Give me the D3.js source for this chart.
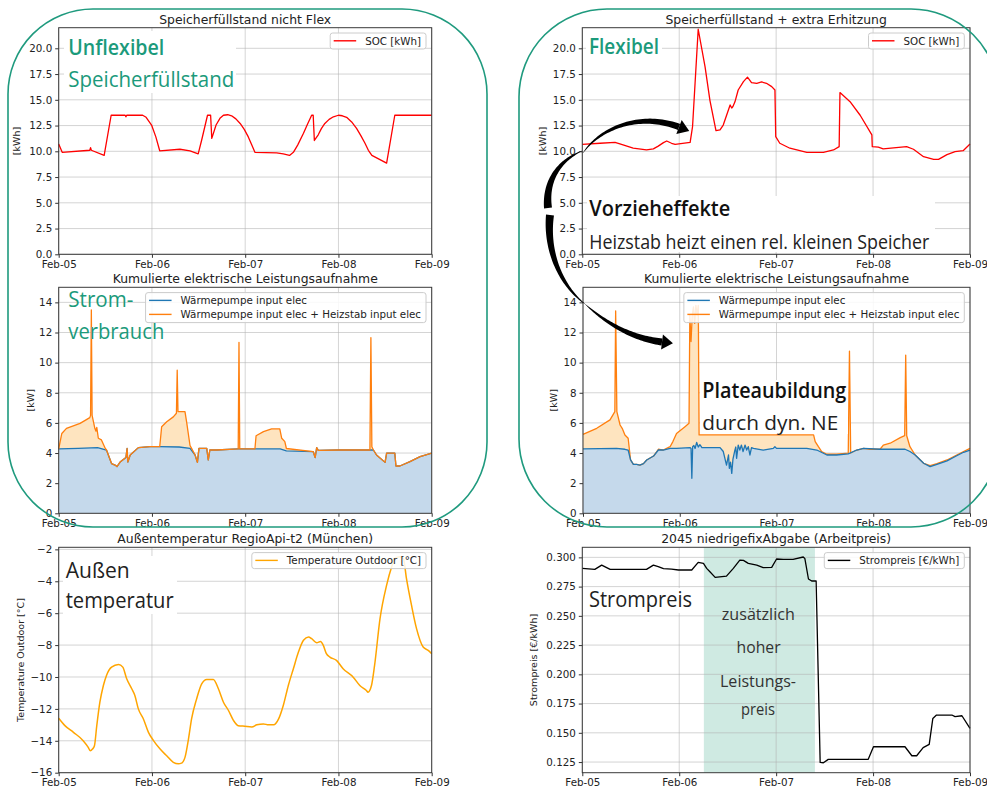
<!DOCTYPE html>
<html><head><meta charset="utf-8">
<script src="https://cdn.jsdelivr.net/npm/d3@7"></script>
<style>body{margin:0;background:#fff}svg{display:block}</style>
</head><body>
<svg id="c" width="987" height="789"></svg>
<script>
// ---------------- DATA (hours since Feb-05 00:00, value) ----------------
const dayLabels = ["Feb-05","Feb-06","Feb-07","Feb-08","Feb-09"];

const socNonFlex = [[0,10.7],[0.9,9.9],[8,10.1],[8.2,10.35],[8.4,10.1],[11.7,9.6],[13.5,13.5],[17.1,13.5],[17.3,13.35],[17.5,13.5],[21.6,13.5],[22.5,13.3],[23.9,12.55],[25,11.4],[26,10.05],[31.2,10.2],[33.8,10.05],[35.9,9.75],[36.8,11.1],[38.3,13.5],[39.1,13.5],[39.4,11.25],[40.5,12.55],[41.5,13.2],[42.4,13.5],[43.5,13.55],[44.5,13.45],[45.6,13.15],[46.7,12.7],[47.8,12.1],[48.8,11.4],[49.7,10.6],[50.5,9.9],[56.1,9.85],[57.8,9.75],[59.4,9.6],[60.4,9.9],[61.5,10.6],[63,11.75],[64,12.6],[65.1,13.5],[65.5,13.5],[65.8,11.05],[66.8,11.6],[67.6,12.2],[68.5,12.7],[69.6,13.1],[70.7,13.35],[72,13.5],[73,13.45],[74.1,13.3],[75.4,12.85],[76.7,12.2],[77.8,11.5],[78.8,10.8],[79.7,10.1],[80.6,9.6],[84.4,8.85],[86.5,13.5],[96,13.5]];

const socFlex = [[0,10.68],[4.4,10.78],[8.1,10.87],[9.7,10.68],[12.6,10.3],[15.9,10.13],[17.6,10.23],[18.8,10.5],[20.1,10.84],[20.9,11.0],[22.1,10.78],[23,10.68],[26.7,10.87],[27.3,12.4],[28.7,21.85],[30.4,18.2],[31.6,14.95],[33.1,12.0],[34.1,12.07],[34.9,12.55],[35.9,13.7],[36.6,14.5],[37,14.2],[37.3,14.35],[37.8,14.8],[38.6,15.95],[39.9,16.76],[40.9,17.2],[41.9,16.67],[43.2,16.6],[44.4,16.73],[45.6,16.6],[46.9,16.28],[47.7,15.95],[47.9,11.42],[48.9,10.78],[51.4,10.3],[55.6,9.9],[59.7,9.9],[62.2,10.13],[63.6,10.45],[63.8,15.7],[66.3,14.82],[68.8,13.5],[71.7,11.6],[71.8,10.45],[73.3,10.4],[74.5,10.23],[80.3,10.45],[82,10.2],[84.5,9.48],[87,9.22],[88.2,9.22],[90.3,9.68],[92.3,9.97],[94.3,10.06],[96,10.7]];

const wpNonFlex = [[0,4.27],[5,4.31],[10,4.36],[12.3,4.2],[13.6,3.3],[14.5,3.2],[15,3.1],[15.8,3.4],[17.3,3.7],[17.6,4.3],[17.8,3.4],[18.4,3.87],[20.5,4.36],[23.5,4.42],[26,4.42],[31,4.4],[33.8,4.31],[35.1,3.87],[35.7,3.38],[36.1,4.31],[38.1,4.31],[38.5,3.54],[38.9,4.2],[40.7,4.2],[46,4.27],[50,4.27],[57,4.27],[58.6,4.14],[65.5,4.1],[66,3.7],[66.4,4.36],[66.8,4.18],[72,4.2],[81,4.2],[81.8,3.87],[84,3.38],[84.4,4.0],[86.5,4.0],[86.8,3.14],[87.8,3.14],[90.4,3.43],[93,3.76],[96,4.0]];

const totalNonFlex = [[0,4.27],[0.8,5.3],[2,5.64],[5.5,5.97],[8,6.35],[8.2,6.5],[8.4,13.5],[8.6,6.5],[9.3,5.64],[9.6,5.45],[9.8,5.7],[10.2,4.98],[11,4.87],[12,4.3],[12.3,4.2],[13.6,3.3],[14.5,3.2],[15,3.1],[15.8,3.4],[17.3,3.7],[17.6,4.3],[17.8,3.4],[18.4,3.87],[20.5,4.36],[23.5,4.42],[26,4.42],[26.5,5.75],[27.8,6.08],[29.5,6.4],[30.3,6.64],[30.5,9.5],[30.7,6.75],[32.5,6.75],[32.9,6.1],[33.8,4.5],[34.2,4.31],[35.1,3.87],[35.7,3.38],[36.1,4.31],[38.1,4.31],[38.5,3.54],[38.9,4.2],[40.7,4.2],[46.2,4.27],[46.4,11.35],[46.6,4.27],[50.5,4.27],[50.8,5.15],[52.7,5.42],[54.8,5.6],[56.9,5.6],[57.4,4.98],[58.2,4.76],[58.6,4.3],[65.5,4.1],[66,3.7],[66.4,4.36],[66.8,4.18],[72,4.2],[80.1,4.2],[80.35,11.66],[80.6,4.42],[81,4.2],[81.8,3.87],[84,3.38],[84.4,4.0],[86.5,4.0],[86.8,3.14],[87.8,3.14],[90.4,3.43],[93,3.76],[96,4.0]];

const wpFlex = [[0,4.27],[8.3,4.31],[10.4,4.25],[11.2,4.2],[11.8,3.54],[12.5,3.25],[13.3,3.25],[14.1,3.2],[15,3.3],[15.8,3.54],[17.5,3.8],[18.7,4.2],[19.9,4.2],[21.6,4.31],[23.2,4.31],[26.6,4.36],[26.8,4.3],[27.0,2.32],[27.2,4.42],[27.5,4.5],[27.8,4.3],[28.2,4.7],[28.6,4.4],[29,4.55],[29.5,4.36],[30.7,4.36],[34,4.36],[34.8,4.1],[35.2,3.65],[35.6,3.2],[36.1,3.87],[36.3,2.99],[36.6,3.4],[36.9,2.65],[37.2,3.6],[37.6,4.1],[37.9,4.4],[38.1,3.65],[38.5,4.53],[38.9,4.2],[39.3,4.53],[39.7,4.1],[40.2,4.53],[40.6,4.2],[41,4.42],[41.4,3.87],[41.8,4.36],[42.3,4.31],[44.7,4.2],[47.2,4.31],[47.6,4.42],[48,4.31],[51.4,4.31],[55.5,4.31],[58,4.2],[60.5,3.87],[62.9,3.87],[65.8,3.94],[67.9,4.2],[69.6,4.31],[73.7,4.25],[79.9,4.25],[81.1,4.1],[82.4,3.87],[84.5,3.32],[86.1,3.1],[87.8,3.25],[90.3,3.48],[92.7,3.82],[94.4,4.05],[96,4.2]];

const totalFlex = [[0,5.24],[3.4,5.64],[6.7,6.2],[7.9,6.75],[8.1,13.43],[8.4,6.75],[9.2,5.86],[9.8,5.6],[10.4,5.2],[11.2,4.98],[11.8,3.54],[12.5,3.25],[13.3,3.25],[14.1,3.2],[15,3.3],[15.8,3.54],[17.5,3.8],[18.7,4.25],[19.9,4.2],[21.6,4.42],[22.3,4.76],[23.2,5.3],[25.3,5.75],[26.3,5.97],[26.5,13.16],[26.8,11.4],[27.1,13.16],[27.4,13.7],[27.7,12.6],[28,13.8],[28.3,13.16],[28.6,13.8],[28.8,5.2],[57.2,5.2],[57.6,4.76],[58.4,4.42],[59.2,4.1],[60.5,3.92],[62.9,3.92],[65.8,4.0],[66.1,10.77],[66.4,4.0],[67.9,4.2],[69.6,4.31],[71.2,4.25],[73.7,4.25],[74.5,4.53],[76.2,4.65],[78.7,5.02],[79.8,5.15],[80.05,10.5],[80.3,5.15],[81.1,4.42],[82.4,3.87],[84.5,3.32],[86.1,3.16],[87.8,3.3],[90.3,3.54],[92.7,3.87],[94.4,4.1],[96,4.31]];

const tempOutdoor = [[0,-12.59],[1.6,-13.05],[3.8,-13.47],[6.3,-13.99],[7.6,-14.41],[8.1,-14.62],[8.7,-14.52],[9.2,-14.31],[9.8,-13.05],[10.6,-11.58],[11.5,-10.53],[12.3,-9.9],[13.6,-9.38],[15.4,-9.21],[16.5,-9.38],[17.5,-10.11],[18.8,-10.74],[19.6,-11.16],[20.5,-12.0],[21.8,-12.63],[23.1,-13.47],[24.4,-13.99],[26.1,-14.52],[27.8,-14.94],[29.5,-15.35],[30.8,-15.44],[31.6,-15.4],[32.5,-15.04],[33.4,-13.89],[34.2,-12.63],[35.5,-11.37],[36.8,-10.43],[38.1,-10.15],[39.8,-10.15],[41.1,-10.74],[42.4,-11.58],[43.7,-12.1],[45,-12.73],[46.2,-13.05],[47.9,-13.09],[49.7,-13.13],[51,-13.0],[52.7,-12.94],[54,-13.0],[55.3,-13.0],[56.6,-12.63],[57.8,-11.79],[59.1,-10.53],[60.4,-9.48],[61.7,-8.44],[63,-7.7],[64.3,-7.49],[65.1,-7.6],[66.4,-7.85],[67.4,-7.77],[68.1,-8.02],[68.9,-8.54],[69.8,-8.75],[71.5,-8.96],[73.2,-9.48],[75.8,-10.01],[77.5,-10.53],[79.2,-10.85],[79.6,-10.95],[80.5,-10.53],[81.3,-9.27],[82.7,-6.34],[84.4,-4.24],[85.7,-3.09],[86.5,-2.57],[87.8,-2.46],[88.7,-2.57],[89.5,-3.82],[90.8,-5.5],[92.1,-6.97],[93.8,-8.12],[95.1,-8.33],[96,-8.54]];

const strompreis = [[0,0.2906],[3.1,0.2897],[4.8,0.2934],[6.9,0.2897],[15.9,0.2897],[17.6,0.2934],[18.8,0.292],[20.1,0.2903],[22.1,0.29],[23.8,0.2892],[27.1,0.2892],[28.7,0.2957],[30,0.2949],[30.8,0.2906],[31.6,0.2877],[32.9,0.2829],[35.7,0.284],[37.4,0.2906],[39,0.2977],[39.9,0.2974],[41.1,0.2949],[43.2,0.2934],[44.8,0.2912],[46.9,0.2914],[48.1,0.2986],[49.8,0.2983],[52.2,0.2983],[54.7,0.3003],[55.1,0.2991],[56,0.2815],[56.8,0.2798],[57.9,0.2798],[58.9,0.1247],[59.7,0.1244],[60.9,0.1273],[70.8,0.1273],[72.1,0.1381],[79.9,0.1381],[81.6,0.1304],[82.8,0.1304],[84.4,0.1373],[85.9,0.1401],[86.8,0.1623],[87.7,0.1652],[91.5,0.1652],[92.3,0.1638],[94,0.1646],[96,0.1538]];

const leistungspreisSpan = [30.1, 57.6];

// ---------------- SETUP ----------------
const svg = d3.select("#c");
const base = Date.UTC(2021,1,5);
const toDate = h => new Date(base + h*3600e3);
const xDomain = [toDate(0), toDate(96)];
const tickDates = d3.range(0,97,24).map(toDate);
const MPL = "DejaVu Sans";
const TEAL = "#1b9a7b";

function panel(c){
  const x = d3.scaleUtc().domain(xDomain).range([c.x0,c.x1]);
  const y = d3.scaleLinear().domain(c.yDomain).range([c.y1,c.y0]);
  const g = svg.append("g");
  if(c.span){
    g.append("rect").attr("x",x(toDate(c.span[0]))).attr("y",c.y0)
     .attr("width",x(toDate(c.span[1]))-x(toDate(c.span[0]))).attr("height",c.y1-c.y0)
     .attr("fill","#cfeae2");
  }
  // grid
  g.append("g").selectAll("line").data(tickDates).join("line")
    .attr("x1",d=>x(d)).attr("x2",d=>x(d)).attr("y1",c.y0).attr("y2",c.y1)
    .attr("stroke","#b0b0b0").attr("stroke-opacity",0.55).attr("stroke-width",1);
  g.append("g").selectAll("line").data(c.yTicks).join("line")
    .attr("x1",c.x0).attr("x2",c.x1).attr("y1",d=>y(d)).attr("y2",d=>y(d))
    .attr("stroke","#b0b0b0").attr("stroke-opacity",0.55).attr("stroke-width",1);
  // series
  (c.series||[]).forEach(s=>{
    const pts = s.data.map(d=>[x(toDate(d[0])), y(d[1])]);
    if(s.fill){
      const area = d3.area().x(d=>d[0]).y0(y(c.yDomain[0])).y1(d=>d[1]);
      g.append("path").attr("d",area(pts)).attr("fill",s.fill);
    }
  });
  (c.series||[]).forEach(s=>{
    const line = d3.line().curve(s.curve||d3.curveLinear);
    const pts = s.data.map(d=>[x(toDate(d[0])), y(d[1])]);
    if(!s.noLine) g.append("path").attr("d",line(pts)).attr("fill","none")
      .attr("stroke",s.color).attr("stroke-width",s.width||1.3).attr("stroke-linejoin","round");
  });
  (c.lineOrder||[]).forEach(s=>{
    const line = d3.line();
    const pts = s.data.map(d=>[x(toDate(d[0])), y(d[1])]);
    g.append("path").attr("d",line(pts)).attr("fill","none")
      .attr("stroke",s.color).attr("stroke-width",s.width||1.3).attr("stroke-linejoin","round");
  });
  // frame
  g.append("rect").attr("x",c.x0).attr("y",c.y0).attr("width",c.x1-c.x0).attr("height",c.y1-c.y0)
    .attr("fill","none").attr("stroke","#3a3a3a").attr("stroke-width",1);
  // axes
  const ax = d3.axisBottom(x).tickValues(tickDates).tickFormat((d,i)=>dayLabels[i]).tickSize(3.5).tickPadding(2.5);
  const gx = g.append("g").attr("transform",`translate(0,${c.y1})`).call(ax);
  gx.select(".domain").remove();
  gx.selectAll("line").attr("stroke","#333");
  gx.selectAll("text").attr("font-family",MPL).attr("font-size",10.3).attr("fill","#222");
  const ay = d3.axisLeft(y).tickValues(c.yTicks).tickFormat(c.yFmt).tickSize(3.5).tickPadding(3);
  const gy = g.append("g").attr("transform",`translate(${c.x0},0)`).call(ay);
  gy.select(".domain").remove();
  gy.selectAll("line").attr("stroke","#333");
  gy.selectAll("text").attr("font-family",MPL).attr("font-size",10.3).attr("fill","#222");
  // title
  g.append("text").attr("x",(c.x0+c.x1)/2).attr("y",c.y0-4.2).attr("text-anchor","middle")
    .attr("font-family",MPL).attr("font-size",12.4).attr("fill","#222").text(c.title);
  // ylabel
  g.append("text").attr("transform",`translate(${c.ylabelX},${(c.y0+c.y1)/2}) rotate(-90)`)
    .attr("text-anchor","middle").attr("dy","0.35em")
    .attr("font-family",MPL).attr("font-size",9.5).attr("fill","#222").text(c.ylabel);
  // legend
  const lg = g.append("g");
  const rows = c.legend;
  const tmp = rows.map(r=>{
    const t = lg.append("text").attr("font-family",MPL).attr("font-size",10.3).attr("fill","#222").text(r.label);
    return t;
  });
  const tw = d3.max(tmp, t=>t.node().getComputedTextLength());
  const bw = 35 + tw + 5, bh = rows.length===1 ? 16 : 30;
  const bx = c.x1 - 5.7 - bw, by = c.y0 + 5.3;
  lg.insert("rect","text").attr("x",bx).attr("y",by).attr("width",bw).attr("height",bh).attr("rx",2.5)
    .attr("fill","#fff").attr("fill-opacity",0.85).attr("stroke","#cccccc").attr("stroke-width",1);
  rows.forEach((r,i)=>{
    const cy = by + 7.8 + i*14;
    lg.append("line").attr("x1",bx+3.5).attr("x2",bx+26).attr("y1",cy).attr("y2",cy)
      .attr("stroke",r.color).attr("stroke-width",1.4);
    tmp[i].attr("x",bx+35).attr("y",cy).attr("dy","0.36em");
  });
  return {x,y,g};
}

const yA = d3.range(0,20.01,2.5);
const yP = d3.range(0,15,2);
const yT = d3.range(-16,-1.9,2);
const yS = d3.range(5,13).map(i=>i*0.025);

panel({x0:58.7,x1:431.7,y0:27.7,y1:254.3,yDomain:[0,22],yTicks:yA,yFmt:d3.format(".1f"),
  title:"Speicherfüllstand nicht Flex",ylabel:"[kWh]",ylabelX:16.7,
  series:[{data:socNonFlex,color:"#ff0000",width:1.3}],
  legend:[{label:"SOC [kWh]",color:"#ff0000"}]});
panel({x0:582.3,x1:970,y0:27.7,y1:254.3,yDomain:[0,22],yTicks:yA,yFmt:d3.format(".1f"),
  title:"Speicherfüllstand + extra Erhitzung",ylabel:"[kWh]",ylabelX:542.7,
  series:[{data:socFlex,color:"#ff0000",width:1.3}],
  legend:[{label:"SOC [kWh]",color:"#ff0000"}]});
panel({x0:58.7,x1:431.7,y0:287.3,y1:513.3,yDomain:[0,15],yTicks:yP,yFmt:d3.format("d"),
  title:"Kumulierte elektrische Leistungsaufnahme",ylabel:"[kW]",ylabelX:31,
  series:[{data:totalNonFlex,fill:"#fee4bf",noLine:true},{data:wpNonFlex,fill:"#c5d9eb",color:"#1f77b4"},{data:totalNonFlex,color:"#ff7f0e",noLine:false}],
  legend:[{label:"Wärmepumpe input elec",color:"#1f77b4"},{label:"Wärmepumpe input elec + Heizstab input elec",color:"#ff7f0e"}]});
panel({x0:583,x1:970,y0:287.3,y1:513.3,yDomain:[0,15],yTicks:yP,yFmt:d3.format("d"),
  title:"Kumulierte elektrische Leistungsaufnahme",ylabel:"[kW]",ylabelX:554,
  series:[{data:totalFlex,fill:"#fee4bf",noLine:true},{data:wpFlex,fill:"#c5d9eb",noLine:true}],
  lineOrder:[{data:totalFlex,color:"#ff7f0e"},{data:wpFlex,color:"#1f77b4"}],
  legend:[{label:"Wärmepumpe input elec",color:"#1f77b4"},{label:"Wärmepumpe input elec + Heizstab input elec",color:"#ff7f0e"}]});
panel({x0:58.7,x1:431.7,y0:547.3,y1:772.7,yDomain:[-16,-1.87],yTicks:yT,yFmt:d3.format("d"),
  title:"Außentemperatur RegioApi-t2 (München)",ylabel:"Temperature Outdoor [°C]",ylabelX:21,
  series:[{data:tempOutdoor,color:"#ffa500",width:1.5,curve:d3.curveMonotoneX}],
  legend:[{label:"Temperature Outdoor [°C]",color:"#ffa500"}]});
panel({x0:582.3,x1:970,y0:547.3,y1:772.7,yDomain:[0.1159,0.3086],yTicks:yS,yFmt:d3.format(".3f"),
  title:"2045 niedrigefixAbgabe (Arbeitpreis)",ylabel:"Strompreis [€/kWh]",ylabelX:534,span:leistungspreisSpan,
  series:[{data:strompreis,color:"#000",width:1.3}],
  legend:[{label:"Strompreis [€/kWh]",color:"#000"}]});

// ---------------- OVERLAY ANNOTATIONS ----------------
const OV = "'Open Sans','Noto Sans',sans-serif";
const boxes = [[64,31,172,62],[586,32,76,28],[587,196,348,56],[700,380,148,54],[63,556,114,58],[587,588,107,25]];
boxes.forEach(b=>svg.append("rect").attr("x",b[0]).attr("y",b[1]).attr("width",b[2]).attr("height",b[3]).attr("fill","#fff"));

const labels = [
  {t:"Unflexibel",x:68.3,y:55,s:22,w:600,c:TEAL,len:96},
  {t:"Speicherfüllstand",x:68.3,y:87,s:21,w:400,c:TEAL,len:166},
  {t:"Flexibel",x:589,y:54.3,s:22,w:600,c:TEAL,len:70},
  {t:"Vorzieheffekte",x:589.3,y:216,s:22,w:600,c:"#111",len:141},
  {t:"Heizstab heizt einen rel. kleinen Speicher",x:589.3,y:249.3,s:20,w:400,c:"#222",len:340},
  {t:"Strom-",x:68.3,y:307.3,s:22,w:400,c:TEAL,len:65},
  {t:"verbrauch",x:68.3,y:339,s:22,w:400,c:TEAL,len:96},
  {t:"Plateaubildung",x:702.3,y:398.3,s:22,w:600,c:"#111",len:144},
  {t:"durch dyn. NE",x:702.3,y:430,s:20,w:400,c:"#222",len:136},
  {t:"Außen",x:65.7,y:578.3,s:21,w:400,c:"#222",len:64},
  {t:"temperatur",x:65.7,y:608.3,s:21,w:400,c:"#222",len:108},
  {t:"Strompreis",x:589,y:606.7,s:21,w:400,c:"#222",len:103},
  {t:"zusätzlich",x:758.3,y:620,s:17,w:400,c:"#333",len:73,mid:true},
  {t:"hoher",x:758.6,y:653.3,s:17,w:400,c:"#333",len:44,mid:true},
  {t:"Leistungs-",x:758,y:686.7,s:17,w:400,c:"#333",len:76,mid:true},
  {t:"preis",x:758,y:715,s:17,w:400,c:"#333",len:34,mid:true}
];
labels.forEach(l=>{
  svg.append("text").attr("x",l.mid? l.x-l.len/2 : l.x).attr("y",l.y)
    .attr("font-family",OV).attr("font-size",l.s).attr("font-weight",l.w).attr("fill",l.c)
    .attr("textLength",l.len).attr("lengthAdjust","spacingAndGlyphs").text(l.t);
});

// ---------------- ROUNDED GROUP FRAMES ----------------
svg.append("rect").attr("x",8).attr("y",9).attr("width",479).attr("height",518).attr("rx",85)
  .attr("fill","none").attr("stroke","#1f9a7e").attr("stroke-width",1.6);
svg.append("rect").attr("x",519).attr("y",9).attr("width",480).attr("height",518).attr("rx",88)
  .attr("fill","none").attr("stroke","#1f9a7e").attr("stroke-width",1.6);

// ---------------- CURVED ARROWS ----------------
function bez(p,t){const u=1-t;return [u*u*u*p[0][0]+3*u*u*t*p[1][0]+3*u*t*t*p[2][0]+t*t*t*p[3][0],
  u*u*u*p[0][1]+3*u*u*t*p[1][1]+3*u*t*t*p[2][1]+t*t*t*p[3][1]];}
function bezD(p,t){const u=1-t;return [3*u*u*(p[1][0]-p[0][0])+6*u*t*(p[2][0]-p[1][0])+3*t*t*(p[3][0]-p[2][0]),
  3*u*u*(p[1][1]-p[0][1])+6*u*t*(p[2][1]-p[1][1])+3*t*t*(p[3][1]-p[2][1])];}
function tapered(p,w0,w1,head){
  const n=48,L=[],R=[];
  for(let i=0;i<=n;i++){const t=i/n,pt=bez(p,t),d=bezD(p,t),m=Math.hypot(d[0],d[1]);
    const nx=-d[1]/m,ny=d[0]/m,w=(w0+(w1-w0)*Math.pow(t,0.8))/2;
    L.push([pt[0]+nx*w,pt[1]+ny*w]);R.push([pt[0]-nx*w,pt[1]-ny*w]);}
  let pts=L.concat(R.reverse());
  svg.append("path").attr("d",d3.line()(pts)+"Z").attr("fill","#000");
  if(head){const d=bezD(p,1),m=Math.hypot(d[0],d[1]),ux=d[0]/m,uy=d[1]/m,nx=-uy,ny=ux,e=p[3];
    const tri=[[e[0]+nx*head.h/2,e[1]+ny*head.h/2],[e[0]+ux*head.l,e[1]+uy*head.l],[e[0]-nx*head.h/2,e[1]-ny*head.h/2]];
    svg.append("path").attr("d",d3.line()(tri)+"Z").attr("fill","#000");}
}
tapered([[583,153],[600,128],[640,112],[679,127]],0.3,6.5,{h:15,l:11});
tapered([[582,151],[560,160],[545,180],[548,208]],0.3,8,null);
tapered([[585,304],[560,285],[546,250],[550,215]],0.3,8,null);
tapered([[585,304],[605,322],[630,338],[662,342]],0.3,7,{h:15,l:11});
</script>
</body></html>
